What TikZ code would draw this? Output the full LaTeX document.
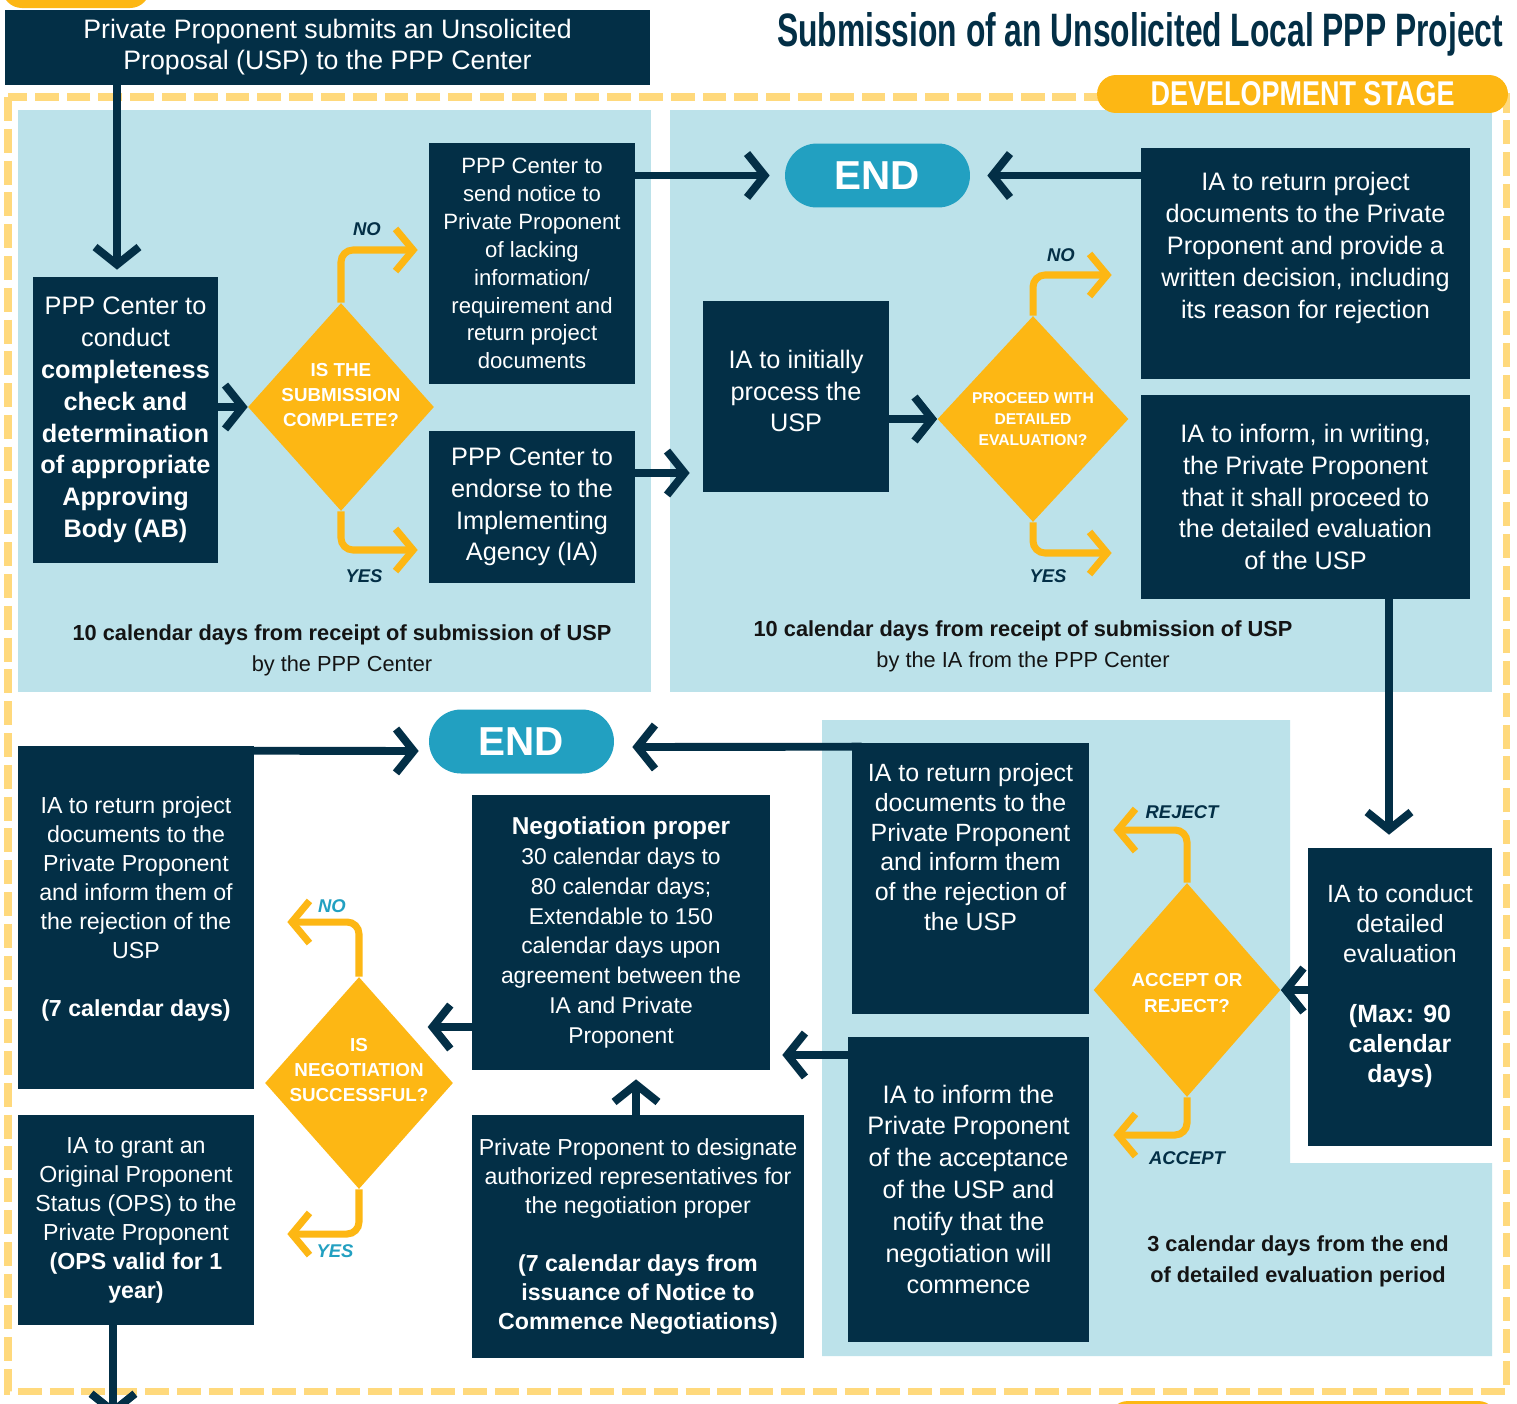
\documentclass[tikz,border=0pt]{standalone}
\usepackage{fontspec}
\setmainfont{Liberation Sans}
\usepackage{graphicx}
\usetikzlibrary{shapes.geometric,arrows.meta,calc}
\definecolor{navy}{HTML}{032F46}
\definecolor{panel}{HTML}{BCE2EA}
\definecolor{gold}{HTML}{FDB714}
\definecolor{dashy}{HTML}{FFD97C}
\definecolor{tealc}{HTML}{22A0C1}
\definecolor{ink}{HTML}{141414}
\begin{document}
\begin{tikzpicture}[x=0.02cm,y=-0.02cm,
  box/.style={fill=navy,inner sep=0pt,text=white,align=center},
  txt/.style={text=white,align=center,inner sep=0pt},
  fA/.style={font=\fontsize{14.4pt}{18.1pt}\selectfont},
  fB/.style={font=\fontsize{12.6pt}{15.9pt}\selectfont},
  fC/.style={font=\fontsize{13.2pt}{16.5pt}\selectfont},
  fD/.style={font=\fontsize{14.2pt}{17pt}\selectfont},
  fN/.style={font=\fontsize{13pt}{17pt}\selectfont},
  dia/.style={diamond,fill=gold,inner sep=0pt},
  dtxt/.style={text=white,align=center,inner sep=0pt,font=\bfseries\fontsize{10.7pt}{14.3pt}\selectfont},
  lbl/.style={text=navy,inner sep=0pt,font=\bfseries\itshape\fontsize{10.5pt}{12pt}\selectfont},
  endpill/.style={fill=tealc,rounded corners=0.64cm,minimum width=3.7cm,minimum height=1.28cm,inner sep=0pt,text=white,font=\bfseries\fontsize{23pt}{23pt}\selectfont},
  ann/.style={text=ink,align=center,inner sep=0pt,font=\fontsize{12.4pt}{17.6pt}\selectfont},
  narr/.style={draw=navy,line width=4.5pt,-{Straight Barb[length=10pt,width=25pt]}},
  yarr/.style={draw=gold,line width=4pt,rounded corners=0.24cm,-{Straight Barb[length=10pt,width=24pt]}}
]
\useasboundingbox (0,0) rectangle (1517,1403);
\clip (0,0) rectangle (1517,1403);
\fill[white] (0,0) rectangle (1517,1403);

% panels
\fill[panel] (18,110) rectangle (651,692);
\fill[panel] (670,110) rectangle (1492,692);
\fill[panel] (822,720) -- (1290,720) -- (1290,1163) -- (1492,1163) -- (1492,1356) -- (822,1356) -- cycle;

% dashed stage border
\draw[dashy,line width=4pt,dash pattern=on 13.6pt off 4.5pt] (8,97) rectangle (1506,1391);

% pills
\fill[gold,rounded corners=0.4cm] (2,-50) rectangle (150,8);
\fill[gold,rounded corners=0.4cm] (1108,1401) rectangle (1498,1450);
\node[fill=gold,rounded corners=0.38cm,minimum width=8.22cm,minimum height=0.76cm,inner sep=0pt,text=white] (stage) at (1302.5,94)
  {\resizebox{6.08cm}{0.48cm}{\bfseries DEVELOPMENT STAGE}};

% title
\node[text=navy,inner sep=0pt] (title) at (1140,34)
  {\resizebox{14.52cm}{0.68cm}{\bfseries Submission of an Unsolicited Local PPP Project}};

% top box
\node[box,minimum width=12.9cm,minimum height=1.5cm,font=\fontsize{15.2pt}{17.6pt}\selectfont] (submit) at (327.5,47.5)
  {Private Proponent submits an Unsolicited\\Proposal (USP) to the PPP Center};

% first panel
\node[box,fA,minimum width=3.7cm,minimum height=5.72cm] (comp) at (125.5,420)
  {PPP Center to\\conduct\\\textbf{completeness}\\\textbf{check and}\\\textbf{determination}\\\textbf{of appropriate}\\\textbf{Approving}\\\textbf{Body (AB)}};
\node[dia,minimum width=3.72cm,minimum height=4.16cm] (d1) at (341,407) {};
\node[dtxt] (d1t) at (341,395) {IS THE\\SUBMISSION\\COMPLETE?};
\node[box,fB,minimum width=4.12cm,minimum height=4.82cm] (notice) at (532,263.5)
  {PPP Center to\\send notice to\\Private Proponent\\of lacking\\information/\\requirement and\\return project\\documents};
\node[box,fA,minimum width=4.12cm,minimum height=3.04cm] (endorse) at (532,507)
  {PPP Center to\\endorse to the\\Implementing\\Agency (IA)};
\node[lbl] (l1) at (367,229) {NO};
\node[lbl] (l2) at (364,576) {YES};
\node[ann] (ann1) at (342,650) {\textbf{10 calendar days from receipt of submission of USP}\\by the PPP Center};

% second panel
\node[endpill] (end1) at (877.5,175.5) {END};
\node[box,minimum width=3.72cm,minimum height=3.82cm] (init) at (796,396.5) {};
\node[txt,fA] (initt) at (796,391) {IA to initially\\process the\\USP};
\node[dia,minimum width=3.82cm,minimum height=4.12cm] (d2) at (1033,419) {};
\node[dtxt,font=\bfseries\fontsize{8.9pt}{12pt}\selectfont] (d2t) at (1033,419) {PROCEED WITH\\DETAILED\\EVALUATION?};
\node[box,minimum width=6.58cm,minimum height=4.62cm] (ret1) at (1305.5,263.5) {};
\node[txt,fA] (ret1t) at (1305.5,248) {IA to return project\\documents to the Private\\Proponent and provide a\\written decision, including\\its reason for rejection};
\node[box,fA,minimum width=6.58cm,minimum height=4.08cm] (inf1) at (1305.5,497)
  {IA to inform, in writing,\\the Private Proponent\\that it shall proceed to\\the detailed evaluation\\of the USP};
\node[lbl] (l3) at (1061,255) {NO};
\node[lbl] (l4) at (1048,576) {YES};
\node[ann] (ann2) at (1023,646) {\textbf{10 calendar days from receipt of submission of USP}\\by the IA from the PPP Center};

% third panel
\node[box,minimum width=3.68cm,minimum height=5.96cm] (cond) at (1400,997) {};
\node[txt,fD] (condt) at (1400,986) {IA to conduct\\detailed\\evaluation\\[17pt]\textbf{(Max: 90}\\\textbf{calendar}\\\textbf{days)}};
\node[dia,minimum width=3.74cm,minimum height=4.28cm] (d3) at (1187,990) {};
\node[dtxt] (d3t) at (1187,993) {ACCEPT OR\\REJECT?};
\node[box,minimum width=4.74cm,minimum height=5.42cm] (ret2) at (970.5,878.5) {};
\node[txt,fD] (ret2t) at (970.5,847) {IA to return project\\documents to the\\Private Proponent\\and inform them\\of the rejection of\\the USP};
\node[box,fA,minimum width=4.82cm,minimum height=6.1cm] (inf2) at (968.5,1189.5)
  {IA to inform the\\Private Proponent\\of the acceptance\\of the USP and\\notify that the\\negotiation will\\commence};
\node[lbl] (l5) at (1182,812) {REJECT};
\node[lbl] (l6) at (1187,1158) {ACCEPT};
\node[ann] (ann3) at (1298,1261) {\textbf{3 calendar days from the end}\\\textbf{of detailed evaluation period}};

% bottom left
\node[endpill] (end2) at (521.5,741.5) {END};
\node[box,fN,minimum width=5.96cm,minimum height=5.5cm] (nego) at (621,932.5)
  {{\fontsize{13.9pt}{17pt}\selectfont\textbf{Negotiation proper}}\\30 calendar days to\\80 calendar days;\\Extendable to 150\\calendar days upon\\agreement between the\\IA and Private\\Proponent};
\node[box,fC,minimum width=6.64cm,minimum height=4.86cm] (desig) at (638,1236.5)
  {Private Proponent to designate\\authorized representatives for\\the negotiation proper\\[16.5pt]\textbf{(7 calendar days from}\\\textbf{issuance of Notice to}\\\textbf{Commence Negotiations)}};
\node[dia,minimum width=3.76cm,minimum height=4.24cm] (d4) at (359,1083) {};
\node[dtxt] (d4t) at (359,1070) {IS\\NEGOTIATION\\SUCCESSFUL?};
\node[box,minimum width=4.72cm,minimum height=6.86cm] (ret3) at (136,917.5) {};
\node[txt,fC] (ret3t) at (136,909) {IA to return project\\documents to the\\Private Proponent\\and inform them of\\the rejection of the\\USP\\[16.4pt]\textbf{(7 calendar days)}};
\node[box,fC,minimum width=4.72cm,minimum height=4.2cm] (grant) at (136,1220)
  {IA to grant an\\Original Proponent\\Status (OPS) to the\\Private Proponent\\\textbf{(OPS valid for 1}\\\textbf{year)}};
\node[lbl,text=tealc] (l7) at (332,906) {NO};
\node[lbl,text=tealc] (l8) at (335,1251) {YES};

% connectors
\draw[narr] ($(submit.south -| comp.north)+(-8.5,0)$) -- ($(comp.north)+(-8.5,-7)$);
\draw[narr] (comp.east |- d1.west) -- (d1.west);
\draw[yarr] (d1.north) |- ($(notice.west)+(-11,-13.5)$);
\draw[yarr] (d1.south) |- ($(endorse.west)+(-11,43)$);
\draw[narr] (notice.east |- end1.west) -- ($(end1.west)+(-15,0)$);
\draw[narr] (ret1.west |- end1.east) -- ($(end1.east)+(17,0)$);
\draw[narr] ($(endorse.east)+(0,-34)$) -- ($(init.west |- endorse.east)+(-13,-34)$);
\draw[narr] (init.east |- d2.west) -- (d2.west);
\draw[yarr] (d2.north) |- ($(ret1.west)+(-29,11.5)$);
\draw[yarr] (d2.south) |- ($(inf1.west)+(-29,56)$);
\draw[narr] ($(inf1.south -| cond.north)+(-11,0)$) -- ($(cond.north)+(-11,-13)$);
\draw[narr] (cond.west |- d3.east) -- (d3.east);
\draw[yarr] (d3.north) |- ($(ret2.east)+(24,-48.5)$);
\draw[yarr] (d3.south) |- ($(inf2.east)+(24,-54.5)$);
\draw[narr] ($(ret2.north west)+(10,4)$) -- ($(end2.east)+(18,5.5)$);
\draw[narr] ($(ret3.north east)+(-10,5)$) -- ($(end2.west)+(-10,9.5)$);
\draw[narr] ($(inf2.west)+(0,-134.5)$) -- ($(nego.east |- inf2.west)+(12,-134.5)$);
\draw[narr] ($(desig.north)+(-2,0)$) -- ($(desig.north |- nego.south)+(-2,9)$);
\draw[narr] ($(nego.west)+(0,94.5)$) -- ($(nego.west)+(-44,94.5)$);
\draw[yarr] (d4.north) |- ($(ret3.east)+(33,4.5)$);
\draw[yarr] (d4.south) |- ($(grant.east)+(33,14)$);
\draw[narr] ($(grant.south)+(-23,0)$) -- ($(grant.south)+(-23,91)$);
\end{tikzpicture}
\end{document}
